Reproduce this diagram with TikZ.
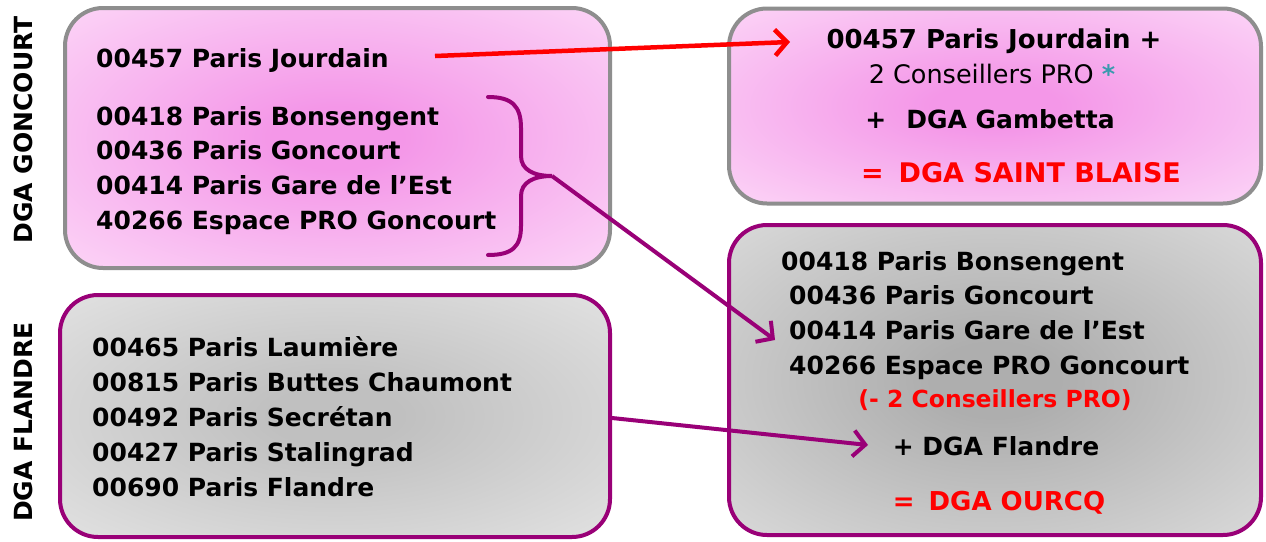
\documentclass[tikz,border=0pt]{standalone}
\usepackage{fontspec}
\setmainfont{DejaVu Sans}
\usetikzlibrary{arrows.meta}
\definecolor{pinkin}{HTML}{F497E8}
\definecolor{pinkout}{HTML}{FEE6FB}
\definecolor{grayin}{HTML}{AEAEAE}
\definecolor{grayout}{HTML}{E8E8E8}
\definecolor{grayinb}{HTML}{C0C0C0}
\definecolor{grayoutb}{HTML}{EDEDED}
\definecolor{bordergray}{HTML}{8E8E8E}
\definecolor{borderpurple}{HTML}{990077}
\definecolor{asteal}{HTML}{3A9AAE}
\definecolor{redtxt}{HTML}{FF0000}
\pgfdeclareradialshading{pinkrad}{\pgfpoint{0bp}{0bp}}{color(0bp)=(pinkin); color(6bp)=(pinkin); color(44bp)=(pinkout); color(80bp)=(pinkout)}
\pgfdeclareradialshading{grayrad}{\pgfpoint{0bp}{0bp}}{color(0bp)=(grayin); color(6bp)=(grayin); color(46bp)=(grayout); color(80bp)=(grayout)}
\pgfdeclareradialshading{grayradb}{\pgfpoint{0bp}{0bp}}{color(0bp)=(grayinb); color(6bp)=(grayinb); color(46bp)=(grayoutb); color(80bp)=(grayoutb)}
\begin{document}
\begin{tikzpicture}[x=1pt,y=-1pt,
  box/.style={rectangle, rounded corners=38pt, line width=4pt, inner sep=0pt},
  pinkbox/.style={box, draw=bordergray, shading=pinkrad},
  graybox/.style={box, draw=borderpurple, shading=grayrad},
  grayboxb/.style={box, draw=borderpurple, shading=grayradb},
  txt/.style={anchor=base west, inner sep=0pt, font=\fontsize{25}{30}\selectfont\bfseries},
  ctxt/.style={anchor=base, inner sep=0pt, font=\fontsize{25}{30}\selectfont\bfseries},
  side/.style={rotate=90, inner sep=0pt, font=\fontsize{25}{30}\selectfont\bfseries},
  redarrow/.style={draw=redtxt, line width=4.5pt, -{Straight Barb[length=12pt,width=26pt,line width=4.5pt]}},
  purarrow/.style={draw=borderpurple, line width=4pt, -{Straight Barb[length=12pt,width=26pt,line width=4pt]}},
  brace/.style={draw=borderpurple, line width=4pt, line cap=round}
]
\useasboundingbox (0,0) rectangle (1266,541);
\fill[white] (0,0) rectangle (1266,541);

% boxes
\node[pinkbox, minimum width=545pt, minimum height=260pt] (tl) at (337.5,138) {};
\node[grayboxb, minimum width=550pt, minimum height=242pt] (bl) at (335,416) {};
\node[pinkbox, minimum width=532pt, minimum height=195pt] (tr) at (995,106) {};
\node[graybox, minimum width=532pt, minimum height=310pt] (br) at (995,380) {};

% side labels
\node[side] (lg) at (23,130) {DGA GONCOURT};
\node[side] (lf) at (23,422) {DGA FLANDRE};

% top-left text
\node[txt] (t1) at (96,67) {00457 Paris Jourdain};
\node[txt] (t2) at (96,125) {00418 Paris Bonsengent};
\node[txt] (t3) at (96,159.5) {00436 Paris Goncourt};
\node[txt] (t4) at (96,194) {00414 Paris Gare de l’Est};
\node[txt] (t5) at (96,229) {40266 Espace PRO Goncourt};

% bottom-left text
\node[txt] (b1) at (92,356) {00465 Paris Laumière};
\node[txt] (b2) at (92,391) {00815 Paris Buttes Chaumont};
\node[txt] (b3) at (92,426) {00492 Paris Secrétan};
\node[txt] (b4) at (92,461) {00427 Paris Stalingrad};
\node[txt] (b5) at (92,496.5) {00690 Paris Flandre};

% top-right text
\node[ctxt, font=\fontsize{26}{30}\selectfont\bfseries] (r1) at (994,48) {00457 Paris Jourdain +};
\node[ctxt, font=\fontsize{25.5}{30}\selectfont] (r2) at (992,83) {2 Conseillers PRO {\color{asteal}\bfseries*}};
\node[ctxt] (r3) at (990,128) {+\hspace{20pt}DGA Gambetta};
\node[ctxt, text=redtxt, font=\fontsize{27}{30}\selectfont\bfseries] (r4) at (1021,182) {=\hspace{15pt}DGA SAINT BLAISE};

% bottom-right text
\node[txt] (s1) at (781,270) {00418 Paris Bonsengent};
\node[txt] (s2) at (789,304.5) {00436 Paris Goncourt};
\node[txt] (s3) at (789,339.5) {00414 Paris Gare de l’Est};
\node[txt] (s4) at (789,374.5) {40266 Espace PRO Goncourt};
\node[ctxt, text=redtxt, font=\fontsize{23.5}{28}\selectfont\bfseries] (s5) at (995,407.5) {(- 2 Conseillers PRO)};
\node[ctxt] (s6) at (996,455) {+ DGA Flandre};
\node[ctxt, text=redtxt, font=\fontsize{26}{30}\selectfont\bfseries] (s7) at (999,510) {=\hspace{14pt}DGA OURCQ};

% brace
\coordinate (bt) at (488,97);
\coordinate (bb) at (488,255);
\coordinate (tip) at (552,176);
\draw[brace] (bt) .. controls (512,97) and (521,106) .. (521,128) -- (521,156)
  .. controls (521,170) and (534,176) .. (tip)
  .. controls (534,176) and (521,182) .. (521,196) -- (521,226)
  .. controls (521,247) and (512,255) .. (bb);

% arrows
\coordinate (ra) at (435,56);
\coordinate (rb) at (790,42);
\draw[redarrow] (ra) -- (rb);
\coordinate (pa) at (775,340);
\draw[purarrow] (tip) -- (pa);
\coordinate (qa) at (bl.east |- 0,418);
\coordinate (qb) at (868,445);
\draw[purarrow] (qa) -- (qb);
\end{tikzpicture}
\end{document}
